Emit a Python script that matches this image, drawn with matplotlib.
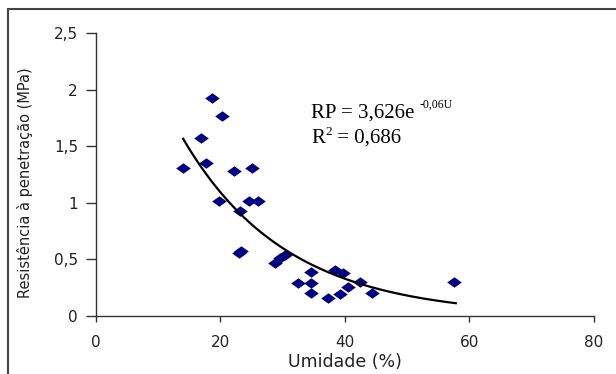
import matplotlib
matplotlib.use("Agg")
import matplotlib.pyplot as plt
import numpy as np
from matplotlib.patches import Rectangle

# Data
umidade = [18.6, 20.2, 16.9, 14.0, 17.6, 22.1, 25.1, 19.8, 24.5, 26.1, 23.1,
           22.9, 23.3, 28.8, 29.6, 30.3, 32.5, 34.6, 34.6, 34.6, 37.3, 38.4,
           39.7, 39.2, 40.5, 42.4, 44.3, 57.5]
resistencia = [1.93, 1.77, 1.57, 1.31, 1.35, 1.28, 1.31, 1.02, 1.02, 1.02, 0.93,
               0.56, 0.57, 0.465, 0.51, 0.54, 0.29, 0.39, 0.29, 0.20, 0.16, 0.41,
               0.38, 0.19, 0.26, 0.30, 0.20, 0.30]
# Trend line: RP = a * exp(b * U)
coef_a = 3.626
coef_b = -0.06
fit_range = [14.0, 57.8]
x_ticks = [0, 20, 40, 60, 80]
x_tick_labels = ["0", "20", "40", "60", "80"]
y_ticks = [0, 0.5, 1, 1.5, 2, 2.5]
y_tick_labels = ["0", "0,5", "1", "1,5", "2", "2,5"]

W, H = 616, 374
fig = plt.figure(figsize=(W / 100, H / 100), dpi=100)
ax = fig.add_axes([96 / W, 58 / H, (594 - 96) / W, (316 - 33) / H])

diamond = [(-1, 0), (0, 0.72), (1, 0), (0, -0.72), (-1, 0)]
ax.plot(umidade, resistencia, linestyle="none", marker=diamond, markersize=10.5,
        color="#000080", markeredgewidth=0)

xf = np.linspace(fit_range[0], fit_range[1], 200)
ax.plot(xf, coef_a * np.exp(coef_b * xf), color="black", linewidth=1.6)

ax.set_xlim(0, 80)
ax.set_ylim(0, 2.5)
ax.set_xticks(x_ticks)
ax.set_xticklabels(x_tick_labels)
ax.set_yticks(y_ticks)
ax.set_yticklabels(y_tick_labels)
for s in ["top", "right"]:
    ax.spines[s].set_visible(False)
for s in ["left", "bottom"]:
    ax.spines[s].set_color("#333333")
    ax.spines[s].set_linewidth(1.0)

ax.tick_params(axis="x", direction="out", length=4, width=1, colors="#333333",
               pad=10, labelsize=11, labelcolor="#222222")
ax.tick_params(axis="y", direction="out", length=7, width=1, colors="#333333",
               pad=6, labelsize=11, labelcolor="#222222")
for lab in ax.get_xticklabels() + ax.get_yticklabels():
    lab.set_family("DejaVu Sans")

fig.text(345 / W, 1 - 362 / H, "Umidade (%)", ha="center", va="center",
         fontsize=12.5, family="DejaVu Sans", color="#222222")
fig.text(25 / W, 1 - 183 / H, "Resistência à penetração (MPa)", ha="center",
         va="center", rotation=90, fontsize=10.5, family="DejaVu Sans",
         color="#222222")

serif = "Liberation Serif"
t1 = fig.text(311 / W, 1 - 118 / H, "RP = 3,626e ", ha="left", va="baseline",
              fontsize=15, family=serif, color="black")
ax.annotate("-0,06U", xy=(1, 0), xycoords=t1, xytext=(0, 9),
            textcoords="offset points", ha="left", va="bottom",
            fontsize=8.5, family=serif, color="black")
t2 = fig.text(311 / W, 1 - 143 / H, "R", ha="left", va="baseline",
              fontsize=15, family=serif, color="black")
t3 = ax.annotate("2", xy=(1, 0), xycoords=t2, xytext=(0.5, 7),
                 textcoords="offset points", ha="left", va="bottom",
                 fontsize=9.5, family=serif, color="black")
ax.annotate(" = 0,686", xy=(1, 0), xycoords=(t3, t2), xytext=(0, 0),
            textcoords="offset points", ha="left", va="bottom",
            fontsize=15, family=serif, color="black")

# outer chart border (extends past right and bottom edges)
fig.patches.append(Rectangle((8 / W, -0.2), 1.2, 1 - 9 / H + 0.2,
                             transform=fig.transFigure, fill=False,
                             edgecolor="#444444", linewidth=1.5))

fig.savefig("out.png", dpi=100)
